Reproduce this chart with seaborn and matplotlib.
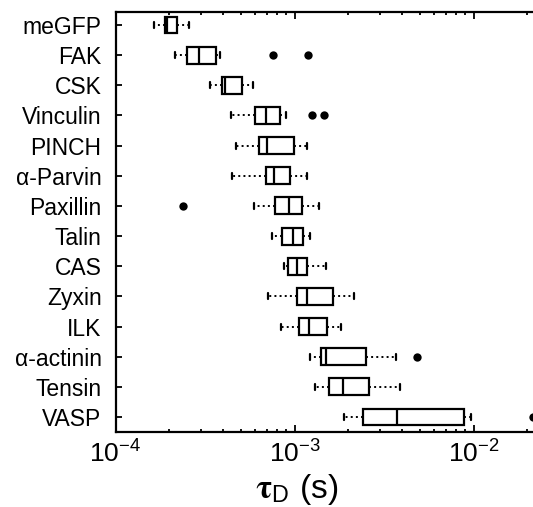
import numpy as np
import pandas as pd
import matplotlib
matplotlib.use("Agg")
import matplotlib.pyplot as plt
import seaborn as sns

# box summaries (seconds)
proteins = ["meGFP", "FAK", "CSK", "Vinculin", "PINCH", "α-Parvin", "Paxillin",
            "Talin", "CAS", "Zyxin", "ILK", "α-actinin", "Tensin", "VASP"]
whisker_lo = [1.65e-4, 2.16e-4, 3.37e-4, 4.40e-4, 4.72e-4, 4.46e-4, 5.95e-4,
              7.52e-4, 8.71e-4, 7.07e-4, 8.36e-4, 1.22e-3, 1.30e-3, 1.90e-3]
q1 = [1.90e-4, 2.50e-4, 3.95e-4, 5.99e-4, 6.32e-4, 6.89e-4, 7.81e-4,
      8.49e-4, 9.20e-4, 1.03e-3, 1.056e-3, 1.40e-3, 1.56e-3, 2.41e-3]
median = [1.95e-4, 2.94e-4, 4.07e-4, 6.93e-4, 7.05e-4, 7.68e-4, 9.27e-4,
          9.75e-4, 1.03e-3, 1.18e-3, 1.20e-3, 1.50e-3, 1.86e-3, 3.73e-3]
q3 = [2.22e-4, 3.64e-4, 5.08e-4, 8.28e-4, 9.90e-4, 9.46e-4, 1.10e-3,
      1.11e-3, 1.17e-3, 1.64e-3, 1.51e-3, 2.51e-3, 2.60e-3, 8.80e-3]
whisker_hi = [2.57e-4, 3.82e-4, 5.86e-4, 9.01e-4, 1.18e-3, 1.175e-3, 1.37e-3,
              1.227e-3, 1.50e-3, 2.15e-3, 1.83e-3, 3.69e-3, 3.89e-3, 9.70e-3]

outlier_names = ["FAK", "FAK", "Vinculin", "Vinculin", "Paxillin", "α-actinin", "VASP"]
outlier_vals = [7.55e-4, 1.19e-3, 1.25e-3, 1.46e-3, 2.37e-4, 4.85e-3, 2.15e-2]

x_major = [1e-4, 1e-3, 1e-2]

# five values per protein -> exact quartiles with linear percentiles
rows = []
for name, lo, a, m, b, hi in zip(proteins, whisker_lo, q1, median, q3, whisker_hi):
    for v in (lo, a, m, b, hi):
        rows.append((name, v))
df = pd.DataFrame(rows, columns=["protein", "tau"])

sns.set_style("ticks")
plt.rcParams["font.family"] = ["Liberation Sans", "DejaVu Sans"]
plt.rcParams["mathtext.fontset"] = "stix"
plt.rcParams["text.color"] = "black"
plt.rcParams["axes.labelcolor"] = "black"
plt.rcParams["xtick.color"] = "black"
plt.rcParams["ytick.color"] = "black"

fig = plt.figure(figsize=(5.33, 5.07), dpi=100)
# axes runs past the right edge of the figure, like the cropped original
ax = fig.add_axes([115.5 / 533, 75 / 507, 537 / 533, 420 / 507])

sns.boxplot(
    data=df, x="tau", y="protein", order=proteins, log_scale=True,
    whis=(0, 100), width=0.56, color="white", linecolor="black",
    linewidth=1.6, showfliers=False, capwidths=0.2,
    whiskerprops=dict(linestyle=":", linewidth=1.4),
    ax=ax,
)
sns.stripplot(
    x=outlier_vals, y=outlier_names, order=proteins, jitter=False,
    color="black", size=6, ax=ax,
)

ax.set_xlim(1e-4, 1e-1)
ax.set_ylim(13.4975, -0.431)
ax.set_xticks(x_major)

for s in ax.spines.values():
    s.set_linewidth(1.6)
    s.set_color("black")

ax.tick_params(axis="x", which="both", direction="in", top=True,
               labelsize=19, pad=6, width=1.3, color="black", labelcolor="black")
ax.tick_params(axis="x", which="major", length=5)
ax.tick_params(axis="x", which="minor", length=2.5)
ax.tick_params(axis="y", direction="in", length=4, width=1.3, color="black",
               labelsize=16.5, pad=10, labelcolor="black")

ax.set_ylabel("")
ax.set_xlabel(r"$\mathbf{\tau}_{\mathregular{D}}$ (s)", fontsize=24, color="black")
ax.xaxis.set_label_coords(0.338, -0.095)

fig.savefig("out.png", dpi=100)
